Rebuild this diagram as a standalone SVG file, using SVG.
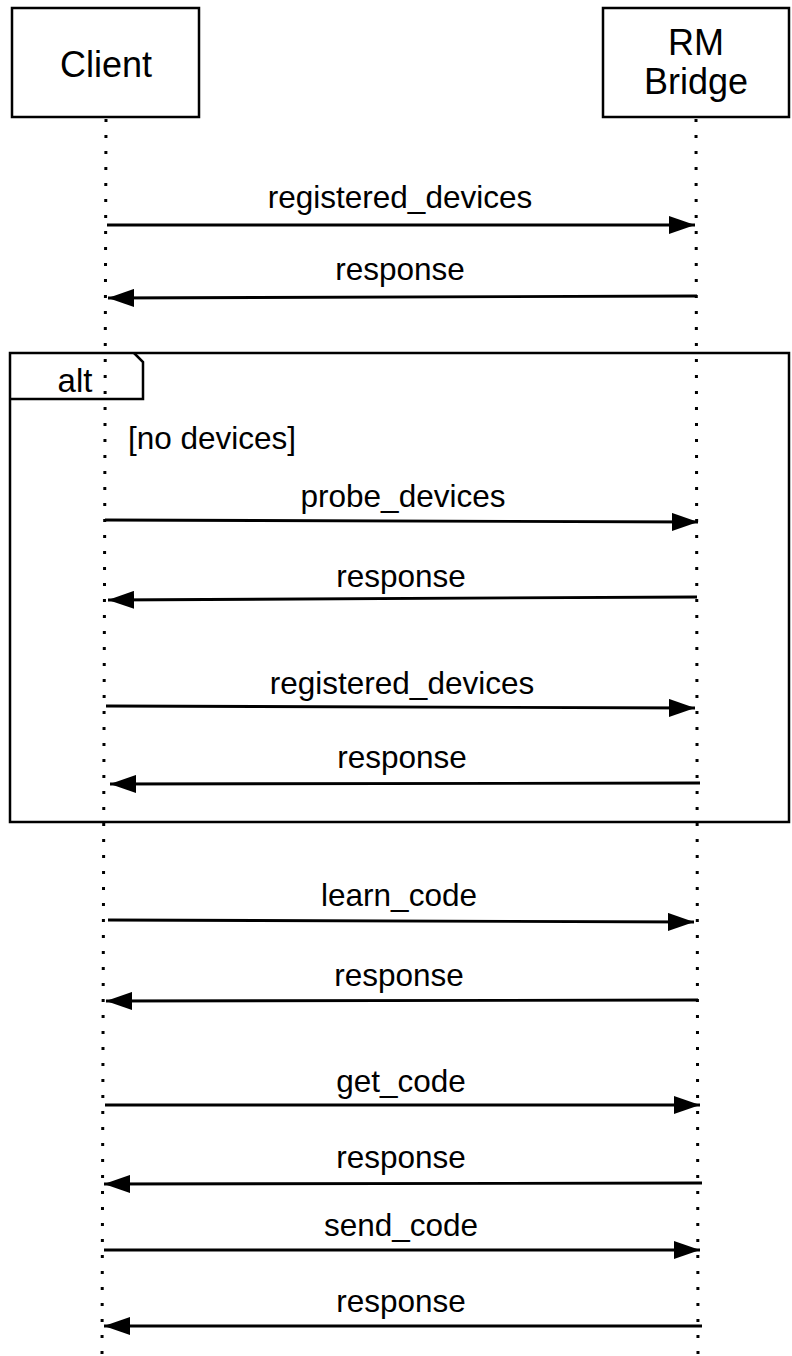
<svg xmlns="http://www.w3.org/2000/svg" width="792" height="1356" viewBox="0 0 792 1356">
<style>
.box{fill:#fff;stroke:#000;stroke-width:2.5}
.life{stroke:#000;stroke-width:3;stroke-dasharray:3 13;fill:none}
.msg{stroke:#000;stroke-width:2.8;fill:none}
.head{font-family:"Liberation Sans",Arial,sans-serif;font-size:36px;text-anchor:middle;fill:#000}
.lbl{font-family:"Liberation Sans",Arial,sans-serif;font-size:31.5px;text-anchor:middle;fill:#000}
.frame{fill:none;stroke:#000;stroke-width:2.5}
</style>
<defs>
<marker id="arr" markerWidth="26" markerHeight="18" refX="26" refY="9" orient="auto" markerUnits="userSpaceOnUse">
<path d="M0,0 L26,9 L0,18 Z" fill="#000"/>
</marker>
</defs>
<rect width="792" height="1356" fill="#fff"/>
<g id="lifelines">
<line class="life" x1="106" y1="119" x2="102" y2="1356"/>
<line class="life" x1="696" y1="119" x2="698" y2="1356"/>
</g>
<g id="client">
<rect class="box" x="12" y="8" width="187" height="109"/>
<text class="head" x="106" y="77">Client</text>
</g>
<g id="rmbridge">
<rect class="box" x="603" y="8" width="186" height="109"/>
<text class="head" x="696" y="55">RM</text>
<text class="head" x="696" y="94">Bridge</text>
</g>
<g id="alt">
<rect class="frame" x="10" y="353" width="779" height="469"/>
<path class="frame" d="M10,399 L143,399 L143,362 L134,353"/>
<text class="lbl" x="75" y="392" style="font-size:33px">alt</text>
<text class="lbl" x="128" y="449" style="text-anchor:start">[no devices]</text>
</g>
<g id="connectors">
<line class="msg" x1="107" y1="225" x2="695" y2="225" marker-end="url(#arr)"/>
<line class="msg" x1="697" y1="296" x2="108" y2="298" marker-end="url(#arr)"/>
<line class="msg" x1="105" y1="520" x2="698" y2="522" marker-end="url(#arr)"/>
<line class="msg" x1="697" y1="597" x2="108" y2="600" marker-end="url(#arr)"/>
<line class="msg" x1="106" y1="706" x2="695" y2="708" marker-end="url(#arr)"/>
<line class="msg" x1="700" y1="783" x2="110" y2="784" marker-end="url(#arr)"/>
<line class="msg" x1="108" y1="920" x2="694" y2="922" marker-end="url(#arr)"/>
<line class="msg" x1="698" y1="1000" x2="106" y2="1001" marker-end="url(#arr)"/>
<line class="msg" x1="105" y1="1105" x2="700" y2="1105" marker-end="url(#arr)"/>
<line class="msg" x1="702" y1="1183" x2="104" y2="1184" marker-end="url(#arr)"/>
<line class="msg" x1="104" y1="1250" x2="700" y2="1250" marker-end="url(#arr)"/>
<line class="msg" x1="702" y1="1326" x2="104" y2="1326" marker-end="url(#arr)"/>
</g>
<g id="labels">
<text class="lbl" x="400" y="208">registered_devices</text>
<text class="lbl" x="400" y="280">response</text>
<text class="lbl" x="403" y="507">probe_devices</text>
<text class="lbl" x="401" y="587">response</text>
<text class="lbl" x="402" y="694">registered_devices</text>
<text class="lbl" x="402" y="768">response</text>
<text class="lbl" x="399" y="906">learn_code</text>
<text class="lbl" x="399" y="986">response</text>
<text class="lbl" x="401" y="1092">get_code</text>
<text class="lbl" x="401" y="1168">response</text>
<text class="lbl" x="401" y="1236">send_code</text>
<text class="lbl" x="401" y="1312">response</text>
</g>
</svg>
